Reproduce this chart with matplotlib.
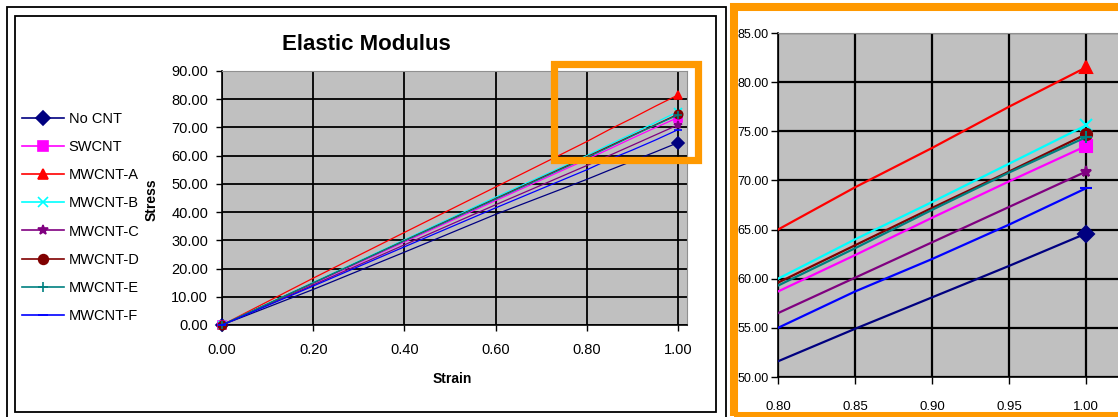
import matplotlib
matplotlib.use("Agg")
import matplotlib.pyplot as plt
from matplotlib.patches import Rectangle
from matplotlib.lines import Line2D
import matplotlib.ticker as mticker

plt.rcParams["font.family"] = ["Liberation Sans", "DejaVu Sans"]

W, H = 1118, 417

# Data
strain = [0.0, 0.2, 0.4, 0.6, 0.8, 0.85, 0.9, 0.95, 1.0]
no_cnt = [0.0, 12.6, 25.8, 39.2, 51.6, 54.9, 58.1, 61.3, 64.6]
swcnt = [0.0, 14.7, 29.4, 44.1, 58.7, 62.4, 66.2, 69.9, 73.5]
mwcnt_a = [0.0, 16.6, 32.8, 48.9, 65.0, 69.3, 73.3, 77.5, 81.5]
mwcnt_b = [0.0, 15.1, 30.2, 45.3, 60.0, 64.0, 67.8, 71.7, 75.6]
mwcnt_c = [0.0, 14.2, 28.4, 42.6, 56.5, 60.1, 63.7, 67.3, 70.9]
mwcnt_d = [0.0, 14.9, 29.9, 44.8, 59.6, 63.4, 67.2, 70.9, 74.7]
mwcnt_e = [0.0, 14.9, 29.8, 44.6, 59.3, 63.1, 67.0, 70.8, 74.4]
mwcnt_f = [0.0, 13.8, 27.7, 41.5, 55.0, 58.7, 62.0, 65.5, 69.2]

labels = ["No CNT", "SWCNT", "MWCNT-A", "MWCNT-B", "MWCNT-C", "MWCNT-D", "MWCNT-E", "MWCNT-F"]
series = [no_cnt, swcnt, mwcnt_a, mwcnt_b, mwcnt_c, mwcnt_d, mwcnt_e, mwcnt_f]
colors = ["#000080", "#FF00FF", "#FF0000", "#00FFFF", "#800080", "#800000", "#008080", "#0000FF"]
markers = ["D", "s", "^", "x", "*", "o", "+", "_"]


def px(x0, y_top, x1, y_bot):
    # pixel box -> figure fraction [left, bottom, width, height]
    return [x0 / W, 1 - y_bot / H, (x1 - x0) / W, (y_bot - y_top) / H]


fig = plt.figure(figsize=(W / 100, H / 100), dpi=100)

# ---- left chart ----
ax = fig.add_axes(px(222, 71, 687, 325))
ax.set_facecolor("#C0C0C0")
for i, y in enumerate(series):
    ax.plot(strain, y, color=colors[i], lw=0.9, marker=markers[i], ms=6, mew=1.2,
            markevery=[0, len(strain) - 1], label=labels[i], zorder=3, clip_on=False)
ax.set_xlim(0, 465 / 456)
ax.set_ylim(0, 90)
ax.set_xticks([0, 0.2, 0.4, 0.6, 0.8, 1.0])
ax.set_yticks(range(0, 91, 10))
ax.xaxis.set_major_formatter(mticker.FormatStrFormatter("%.2f"))
ax.yaxis.set_major_formatter(mticker.FormatStrFormatter("%.2f"))
ax.grid(True, color="black", lw=1.3)
ax.set_axisbelow(True)
ax.tick_params(axis="y", length=4, width=1, pad=6, labelsize=10.5)
ax.tick_params(axis="x", length=4, width=1, pad=9, labelsize=10.5)
for s in ["top", "right"]:
    ax.spines[s].set_color("#909090")
for s in ["left", "bottom"]:
    ax.spines[s].set_color("black")
    ax.spines[s].set_linewidth(1.2)
fig.text(366 / W, 1 - 44 / H, "Elastic Modulus", ha="center", va="center",
         fontsize=16, fontweight="bold")
fig.text(152 / W, 1 - 200 / H, "Stress", ha="center", va="center", rotation=90,
         fontsize=10, fontweight="bold")
fig.text(452 / W, 1 - 379 / H, "Strain", ha="center", va="center",
         fontsize=10, fontweight="bold")

handles = [Line2D([0], [0], color=colors[i], lw=1.2, marker=markers[i], ms=7, mew=1.2)
           for i in range(len(labels))]
fig.legend(handles, labels, loc="upper left", bbox_to_anchor=(22 / W, 1 - 112 / H),
           frameon=False, fontsize=10.5, handlelength=2.9, handletextpad=0.3,
           labelspacing=0.97, borderpad=0, borderaxespad=0)

# zoom highlight on left chart
fig.patches.append(Rectangle((553.5 / W, 1 - 159.5 / H), 144 / W, 96 / H, fill=False,
                             edgecolor="#FF9900", lw=5.2, transform=fig.transFigure,
                             figure=fig, zorder=10))

# left frame (double line)
fig.patches.append(Rectangle((7 / W, -0.05), 719 / W, 1.05 - 7 / H, fill=False,
                             edgecolor="black", lw=1.3, transform=fig.transFigure, figure=fig))
fig.patches.append(Rectangle((15 / W, 1 - 412 / H), 701 / W, 396 / H, fill=False,
                             edgecolor="black", lw=1.3, transform=fig.transFigure, figure=fig))

# ---- right zoomed chart ----
az = fig.add_axes(px(778, 33, 1118, 377))
az.set_facecolor("#C0C0C0")
for i, y in enumerate(series):
    az.plot(strain, y, color=colors[i], lw=1.6, marker=markers[i], ms=8, mew=1.5,
            markevery=[len(strain) - 1], zorder=3)
az.set_xlim(0.8, 0.8 + 340 / 308 * 0.2)
az.set_ylim(50, 85)
az.set_xticks([0.8, 0.85, 0.9, 0.95, 1.0])
az.set_yticks(range(50, 86, 5))
az.xaxis.set_major_formatter(mticker.FormatStrFormatter("%.2f"))
az.yaxis.set_major_formatter(mticker.FormatStrFormatter("%.2f"))
az.grid(True, color="black", lw=1.6)
az.set_axisbelow(True)
az.tick_params(axis="y", length=5, width=1, pad=2, labelsize=9)
az.tick_params(axis="x", length=5, width=1, pad=12, labelsize=9.5)
az.spines["right"].set_visible(False)
az.spines["top"].set_color("#909090")
for s in ["left", "bottom"]:
    az.spines[s].set_color("black")
    az.spines[s].set_linewidth(1.2)

# orange border of zoom panel
fig.patches.append(Rectangle((733.5 / W, 1 - 415.5 / H), 400 / W, 408.5 / H, fill=False,
                             edgecolor="#FF9900", lw=5.8, transform=fig.transFigure,
                             figure=fig, zorder=10))

fig.savefig("out.png", dpi=100, facecolor="white")
